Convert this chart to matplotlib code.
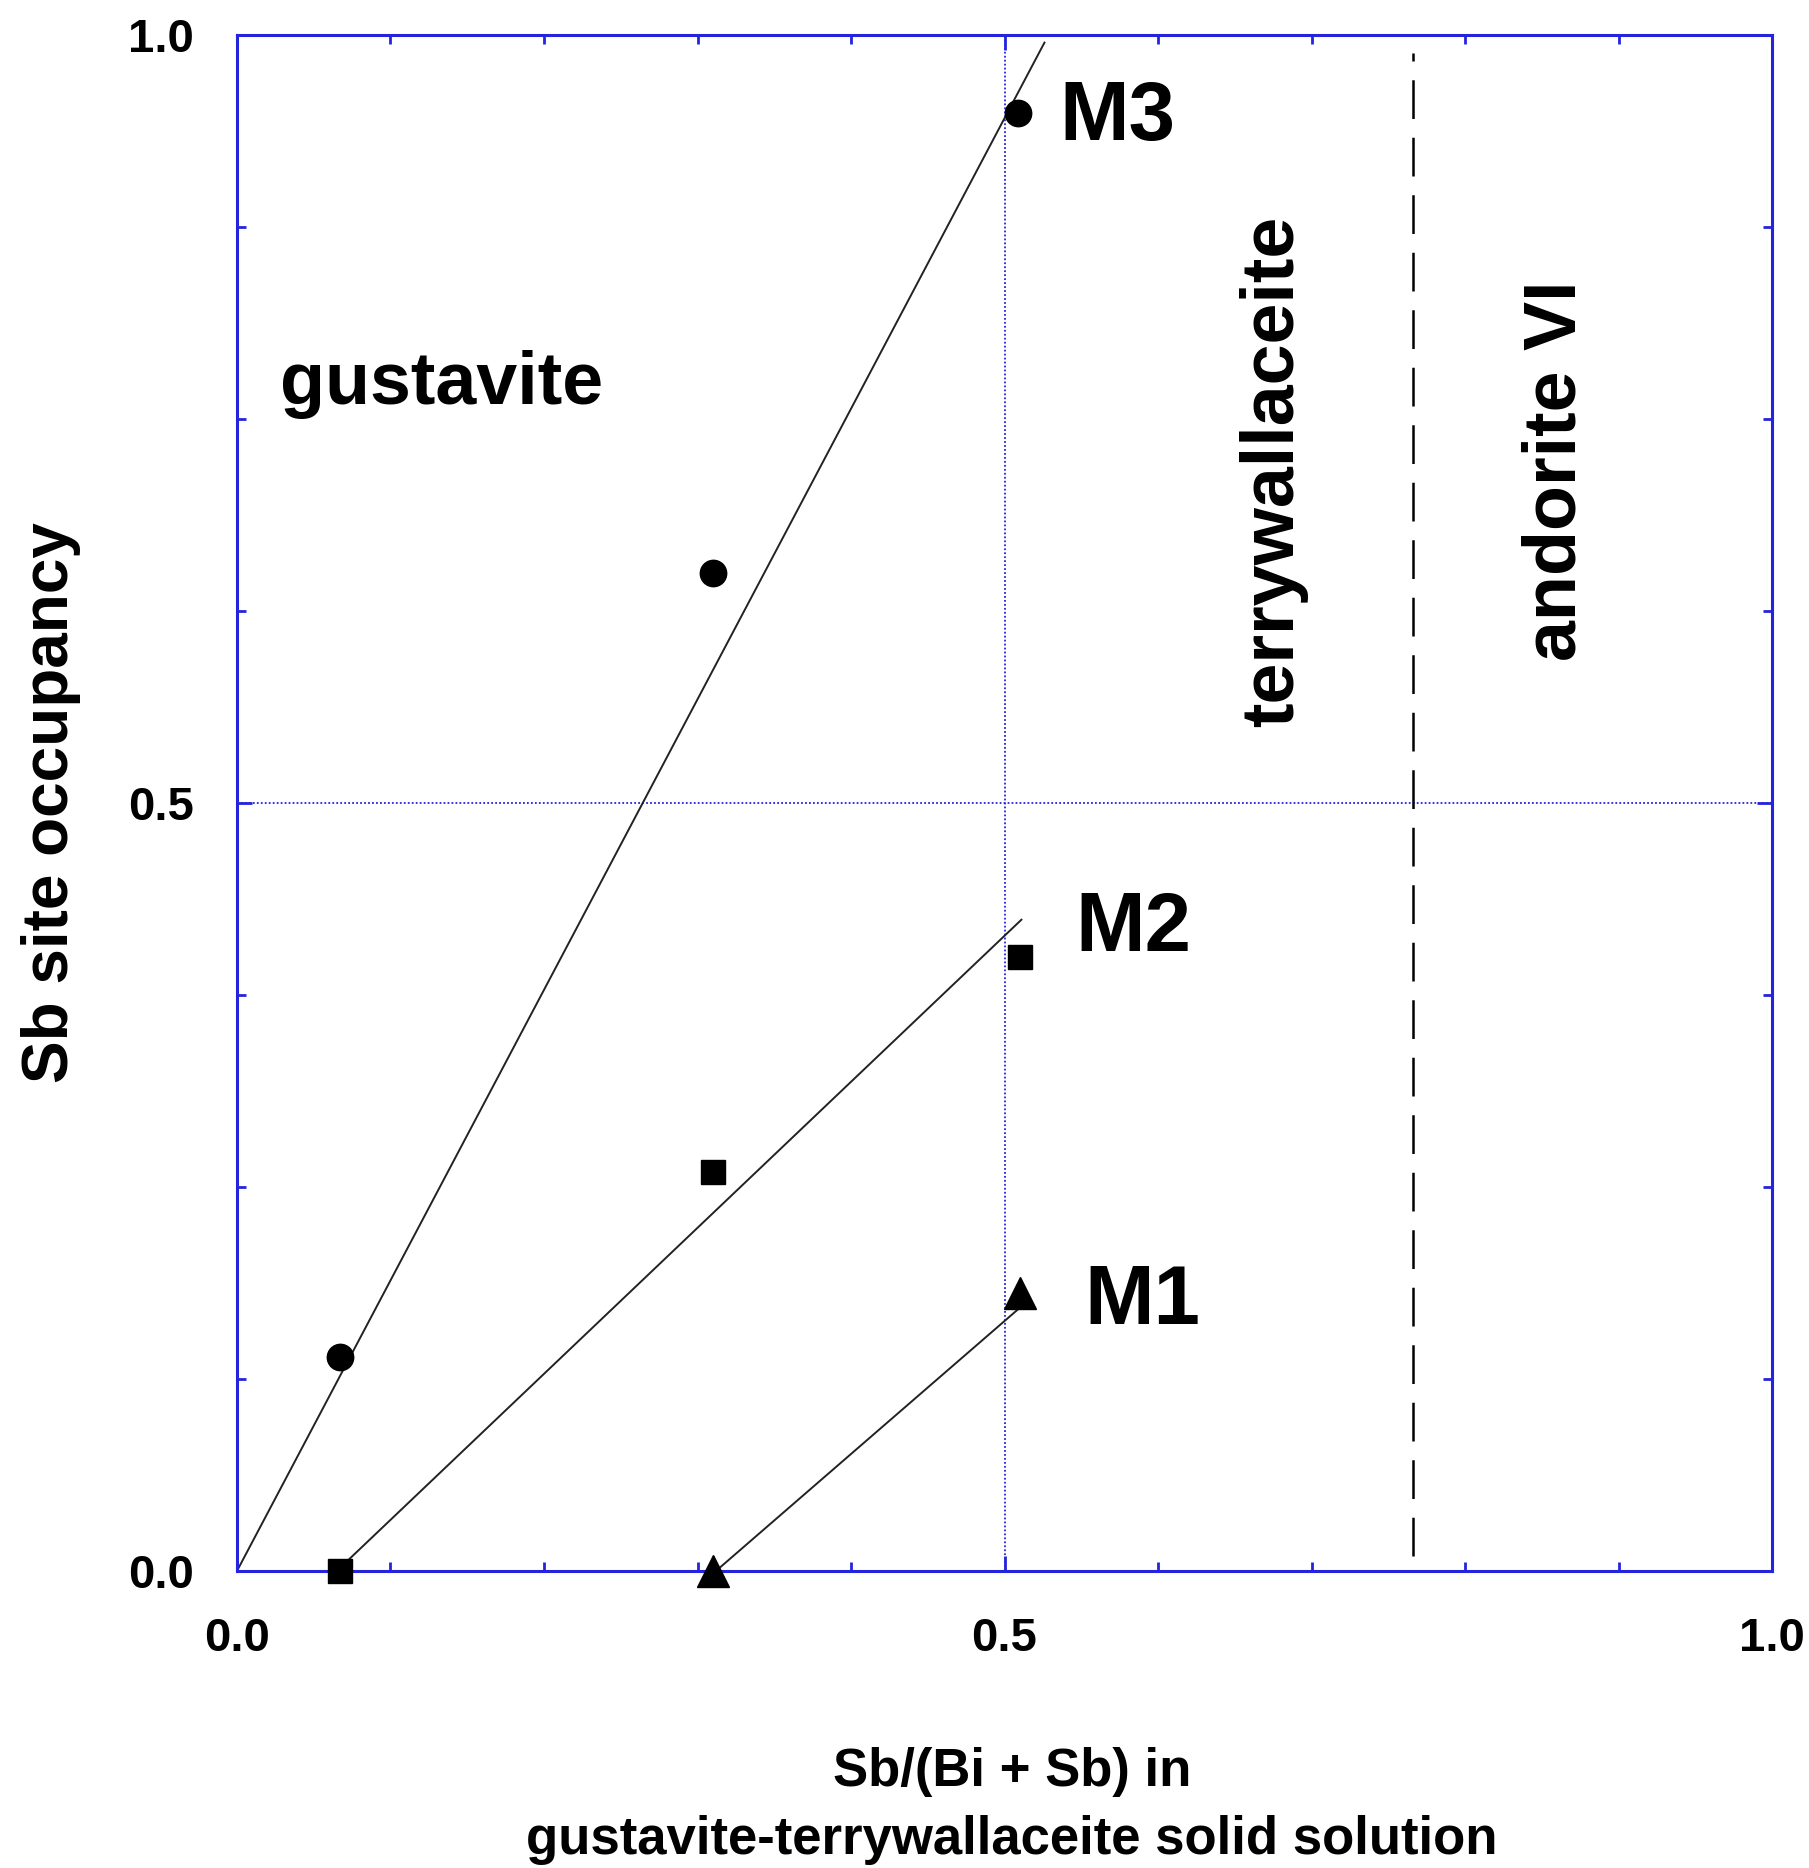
import matplotlib
matplotlib.use("Agg")
import matplotlib.pyplot as plt
from matplotlib.ticker import MultipleLocator

plt.rcParams['font.family'] = ['Liberation Sans', 'DejaVu Sans']
plt.rcParams['font.weight'] = 'bold'

# measured site occupancies
m3_x = [0.067, 0.310, 0.509]
m3_y = [0.139, 0.650, 0.949]
m2_x = [0.067, 0.310, 0.510]
m2_y = [0.000, 0.260, 0.400]
m1_x = [0.310, 0.510]
m1_y = [0.000, 0.181]

# fitted trend lines (end points)
fit_m3_x = [0.000, 0.526]
fit_m3_y = [0.000, 0.995]
fit_m2_x = [0.065, 0.511]
fit_m2_y = [0.000, 0.424]
fit_m1_x = [0.312, 0.513]
fit_m1_y = [0.000, 0.174]

boundary_x = 0.766
boundary_y = [0.010, 0.988]

blue = '#2424dc'

fig = plt.figure(figsize=(18.09, 18.68), dpi=100)
ax = fig.add_axes([0.131, 0.159, 0.8486, 0.8223])

ax.axvline(0.5, color=blue, lw=1.3, dashes=(1, 1.2), zorder=1)
ax.axhline(0.5, color=blue, lw=1.3, dashes=(1, 1.2), zorder=1)

ax.plot(fit_m3_x, fit_m3_y, color='#222222', lw=1.4, zorder=2)
ax.plot(fit_m2_x, fit_m2_y, color='#222222', lw=1.4, zorder=2)
ax.plot(fit_m1_x, fit_m1_y, color='#222222', lw=1.4, zorder=2)

ax.plot([boundary_x, boundary_x], boundary_y, color='black', lw=1.8,
        dashes=(15.5, 7.5), zorder=2)

ax.plot(m3_x, m3_y, 'o', color='black', ms=19, ls='none', clip_on=False, zorder=3)
ax.plot(m2_x, m2_y, 's', color='black', ms=17, ls='none', clip_on=False, zorder=3)
ax.plot(m1_x, m1_y, '^', color='black', ms=23, ls='none', clip_on=False, zorder=3)

ax.text(0.536, 0.946, "M3", fontsize=60, fontweight='bold', ha='left', va='center')
ax.text(0.546, 0.418, "M2", fontsize=60, fontweight='bold', ha='left', va='center')
ax.text(0.552, 0.175, "M1", fontsize=60, fontweight='bold', ha='left', va='center')

ax.text(0.028, 0.7595, "gustavite", fontsize=53, fontweight='bold',
        ha='left', va='baseline')
ax.text(0.688, 0.716, "terrywallaceite", fontsize=53, fontweight='bold',
        rotation=90, rotation_mode='anchor', ha='center', va='baseline')
ax.text(0.872, 0.716, "andorite VI", fontsize=53, fontweight='bold',
        rotation=90, rotation_mode='anchor', ha='center', va='baseline')

ax.set_xlim(0, 1)
ax.set_ylim(0, 1)
ax.set_xticks([0.0, 0.5, 1.0])
ax.set_yticks([0.0, 0.5, 1.0])
ax.set_xticklabels(["0.0", "0.5", "1.0"])
ax.set_yticklabels(["0.0", "0.5", "1.0"])
ax.xaxis.set_minor_locator(MultipleLocator(0.1))
ax.yaxis.set_minor_locator(MultipleLocator(0.125))

ax.tick_params(which='both', direction='in', top=True, right=True, color=blue)
ax.tick_params(which='major', length=11, width=2)
ax.tick_params(which='minor', length=6.5, width=2)
ax.tick_params(axis='x', which='major', labelsize=34, pad=33)
ax.tick_params(axis='y', which='major', labelsize=34, pad=31)
for lab in ax.get_xticklabels() + ax.get_yticklabels():
    lab.set_fontweight('bold')

for sp in ax.spines.values():
    sp.set_color(blue)
    sp.set_linewidth(2.2)

ax.set_xlabel("Sb/(Bi + Sb) in\ngustavite-terrywallaceite solid solution",
              fontsize=38, fontweight='bold', linespacing=1.45)
ax.xaxis.set_label_coords(0.505, -0.1146)
ax.set_ylabel("Sb site occupancy", fontsize=46, fontweight='bold')
ax.yaxis.set_label_coords(-0.1016, 0.5)

fig.savefig("out.png", dpi=100)
